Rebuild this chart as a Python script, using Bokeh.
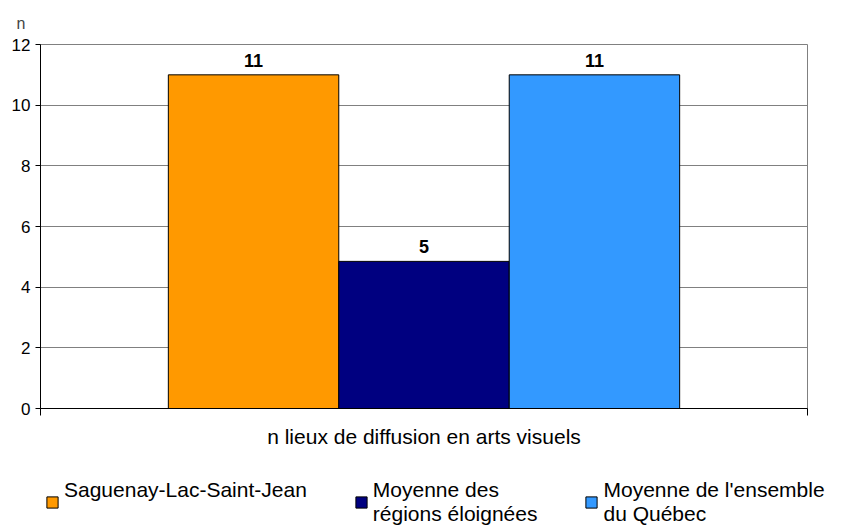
from bokeh.plotting import figure
from bokeh.models import (ColumnDataSource, Range1d, LinearAxis, FixedTicker,
                          Legend, LegendItem, LabelSet)
from bokeh.core.properties import value
from bokeh.embed import file_html
from bokeh.resources import INLINE

category = ["n lieux de diffusion en arts visuels"]
series = ["Saguenay-Lac-Saint-Jean\n\u00a0", "Moyenne des\nrégions éloignées", "Moyenne de l'ensemble\ndu Québec"]
values = [11, 4.85, 11]
colors = ["#FF9900", "#000080", "#3399FF"]
y_ticks = [0, 2, 4, 6, 8, 10, 12]

FONT = "Liberation Sans"
PAD = 1.25  # slot padding on each side of the bar group

n = len(series)
x_lo, x_hi = -PAD, (n - 1) + PAD

W, H1, H2 = 848, 459, 67
p = figure(width=W, height=H1, output_backend="svg", toolbar_location=None,
           x_range=Range1d(x_lo, x_hi), y_range=Range1d(0, 12), x_axis_location=None,
           min_border_left=40, min_border_right=W - 807, min_border_top=44,
           min_border_bottom=H1 - 408)

p.title.text = "n"
p.title.text_font = FONT
p.title.text_font_size = "16px"
p.title.text_font_style = "normal"
p.title.offset = -24
p.title.standoff = 25

p.outline_line_color = "#808080"
p.outline_line_width = 1
p.xgrid.grid_line_color = None
p.ygrid.grid_line_color = "#808080"
p.ygrid.ticker = FixedTicker(ticks=y_ticks)

ya = p.yaxis[0]
ya.ticker = FixedTicker(ticks=y_ticks)
ya.major_label_text_font = FONT
ya.major_label_text_font_size = "17px"
ya.major_label_text_color = "black"
ya.axis_line_color = "black"
ya.major_tick_line_color = "black"
ya.major_tick_out = 5
ya.major_tick_in = 0
ya.minor_tick_line_color = None
ya.major_label_standoff = 5

xa = LinearAxis(ticker=FixedTicker(ticks=[x_lo, x_hi]),
                major_label_overrides={x_lo: "", x_hi: ""})
xa.major_label_text_font_size = "0px"
xa.major_label_standoff = 0
xa.axis_line_color = "black"
xa.major_tick_line_color = "black"
xa.major_tick_out = 7
xa.major_tick_in = 0
xa.minor_tick_line_color = None
xa.axis_label = category[0]
xa.axis_label_text_font = FONT
xa.axis_label_text_font_size = "21px"
xa.axis_label_text_font_style = "normal"
xa.axis_label_text_color = "black"
xa.axis_label_standoff = 9
p.add_layout(xa, "below")

# legend strip under the chart (separate root, so its frame is not aligned to the chart's)
q = figure(width=W, height=H2, output_backend="svg", toolbar_location=None,
           x_range=Range1d(100, 101), y_range=Range1d(100, 101),
           x_axis_location=None, y_axis_location=None,
           min_border_left=45, min_border_top=19, min_border_right=0, min_border_bottom=0)
q.outline_line_color = None
q.xgrid.grid_line_color = None
q.ygrid.grid_line_color = None

items = []
for i, (name, v, c) in enumerate(zip(series, values, colors)):
    src = ColumnDataSource(dict(x=[i], val=[v], lab=[str(int(round(v)))]))
    p.vbar(x="x", top="val", width=1, source=src,
           fill_color=c, line_color="black", line_width=1)
    lbl = LabelSet(x="x", y="val", text="lab", source=src,
                   text_align="center", text_baseline="alphabetic", y_offset=8,
                   text_font=value(FONT), text_font_size=value("18px"),
                   text_font_style="bold", text_color="black")
    p.add_layout(lbl)
    # same bars in the legend strip, outside its visible range: only the swatch shows
    r = q.vbar(x="x", top="val", width=1, source=src,
               fill_color=c, line_color="black", line_width=1)
    items.append(LegendItem(label=name, renderers=[r]))

legend = Legend(items=items, orientation="horizontal", location="top_left",
                label_text_font=FONT, label_text_font_size="21px", label_text_color="black",
                glyph_width=14, glyph_height=14, label_standoff=5, spacing=47,
                padding=0, margin=0, border_line_color=None, background_fill_alpha=0)
q.add_layout(legend)

open("out.html", "w").write(file_html([p, q], INLINE))
